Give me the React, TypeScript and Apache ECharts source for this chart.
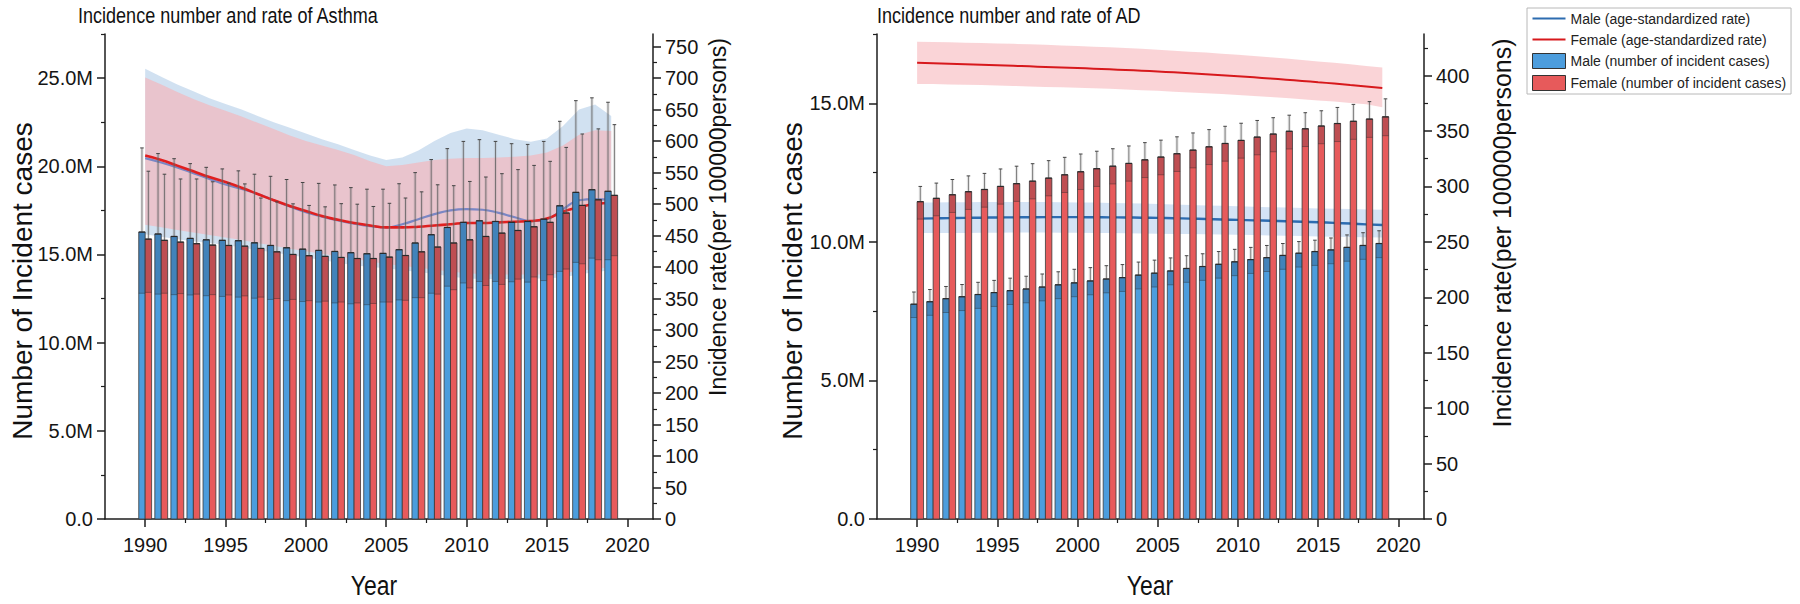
import React, { useEffect, useRef } from "react";
import * as echarts from "echarts";

// ---------- categories & ticks ----------
const years = [1990, 1991, 1992, 1993, 1994, 1995, 1996, 1997, 1998, 1999, 2000, 2001, 2002, 2003, 2004, 2005, 2006, 2007, 2008, 2009, 2010, 2011, 2012, 2013, 2014, 2015, 2016, 2017, 2018, 2019];
const xTicks = [1990, 1995, 2000, 2005, 2010, 2015, 2020];
const xMinorTicks = [1992.5, 1997.5, 2002.5, 2007.5, 2012.5, 2017.5];
const asthmaCountTicks = [0, 5, 10, 15, 20, 25];
const asthmaCountMinor = [2.5, 7.5, 12.5, 17.5, 22.5, 27.5];
const asthmaRateTicks = [0, 50, 100, 150, 200, 250, 300, 350, 400, 450, 500, 550, 600, 650, 700, 750];
const asthmaRateMinor = [25, 75, 125, 175, 225, 275, 325, 375, 425, 475, 525, 575, 625, 675, 725];
const adCountTicks = [0, 5, 10, 15];
const adCountMinor = [2.5, 7.5, 12.5, 17.5];
const adRateTicks = [0, 50, 100, 150, 200, 250, 300, 350, 400];
const adRateMinor = [25, 75, 125, 175, 225, 275, 325, 375, 425];

// ---------- Asthma: incident cases (millions) ----------
const asthmaMale = [16.27, 16.16, 16.02, 15.91, 15.83, 15.8, 15.78, 15.66, 15.51, 15.38, 15.3, 15.23, 15.17, 15.1, 15.04, 15.06, 15.27, 15.65, 16.12, 16.53, 16.82, 16.91, 16.87, 16.82, 16.87, 17.0, 17.76, 18.52, 18.67, 18.58];
const asthmaMaleLow = [12.8, 12.75, 12.72, 12.7, 12.66, 12.62, 12.58, 12.52, 12.45, 12.38, 12.33, 12.3, 12.25, 12.2, 12.15, 12.3, 12.42, 12.55, 12.8, 13.2, 13.38, 13.47, 13.47, 13.45, 13.43, 13.52, 14.04, 14.55, 14.79, 14.7];
const asthmaMaleHigh = [21.04, 20.72, 20.43, 20.15, 19.94, 19.85, 19.74, 19.55, 19.43, 19.25, 19.08, 19.03, 18.94, 18.79, 18.7, 18.7, 19.01, 19.64, 20.38, 21.0, 21.41, 21.51, 21.41, 21.28, 21.24, 21.41, 22.55, 23.72, 23.88, 23.63];
const asthmaFemale = [15.87, 15.8, 15.7, 15.61, 15.53, 15.51, 15.47, 15.34, 15.15, 15.0, 14.93, 14.89, 14.83, 14.77, 14.77, 14.85, 14.94, 15.15, 15.42, 15.65, 15.83, 16.02, 16.21, 16.36, 16.57, 16.82, 17.35, 17.78, 18.1, 18.35];
const asthmaFemaleLow = [12.85, 12.8, 12.78, 12.75, 12.72, 12.7, 12.65, 12.58, 12.5, 12.45, 12.38, 12.35, 12.3, 12.25, 12.22, 12.3, 12.4, 12.55, 12.75, 13.0, 13.1, 13.24, 13.3, 13.6, 13.72, 13.85, 14.17, 14.47, 14.7, 14.93];
const asthmaFemaleHigh = [19.72, 19.55, 19.28, 19.28, 19.12, 19.04, 19.0, 18.2, 17.98, 17.87, 17.78, 17.7, 17.88, 17.85, 17.72, 17.9, 18.2, 18.55, 18.95, 18.9, 19.14, 19.39, 19.58, 19.81, 20.05, 20.28, 21.07, 21.83, 22.12, 22.36];

// ---------- Asthma: age-standardized rate (per 100000) ----------
const asthmaMaleRate = [573, 566, 558, 549, 540, 531, 524, 516, 506, 496, 487, 480, 474, 469, 465, 463, 468, 476, 484, 490, 492, 491, 486, 479, 473, 476, 492, 506, 508, 507];
const asthmaMaleRateLow = [452, 448, 444, 441, 438, 435, 431, 427, 423, 419, 415, 411, 407, 403, 400, 398, 395, 392, 389, 385, 382, 381, 381, 381, 382, 382, 384, 388, 392, 395];
const asthmaMaleRateHigh = [715, 702, 690, 679, 668, 659, 650, 640, 630, 621, 612, 603, 595, 586, 577, 570, 574, 585, 600, 613, 620, 617, 610, 603, 599, 604, 624, 650, 658, 640];
const asthmaFemaleRate = [577, 570, 561, 552, 543, 535, 526, 516, 506, 497, 489, 481, 475, 470, 466, 463, 463, 464, 466, 468, 470, 470, 471, 472, 473, 477, 488, 495, 500, 502];
const asthmaFemaleRateLow = [467, 463, 459, 455, 451, 447, 443, 438, 434, 429, 425, 421, 417, 413, 409, 405, 402, 399, 396, 393, 390, 389, 388, 388, 388, 388, 390, 394, 397, 400];
const asthmaFemaleRateHigh = [701, 690, 678, 667, 657, 648, 639, 629, 619, 609, 600, 593, 586, 578, 568, 560, 562, 566, 570, 572, 573, 573, 574, 575, 577, 582, 593, 610, 617, 616];

// ---------- AD: incident cases (millions) ----------
const adMale = [7.75, 7.84, 7.95, 8.02, 8.1, 8.17, 8.24, 8.3, 8.37, 8.45, 8.52, 8.59, 8.66, 8.71, 8.8, 8.87, 8.95, 9.04, 9.11, 9.19, 9.28, 9.36, 9.43, 9.51, 9.59, 9.65, 9.71, 9.8, 9.87, 9.94];
const adMaleLow = [7.27, 7.35, 7.45, 7.52, 7.6, 7.67, 7.74, 7.8, 7.87, 7.95, 8.02, 8.09, 8.16, 8.21, 8.3, 8.37, 8.45, 8.54, 8.61, 8.69, 8.78, 8.86, 8.93, 9.01, 9.09, 9.15, 9.21, 9.3, 9.37, 9.43];
const adMaleHigh = [8.19, 8.28, 8.39, 8.46, 8.54, 8.61, 8.69, 8.76, 8.84, 8.92, 9.01, 9.07, 9.14, 9.18, 9.27, 9.34, 9.42, 9.5, 9.57, 9.65, 9.73, 9.8, 9.87, 9.94, 10.01, 10.06, 10.14, 10.25, 10.33, 10.4];
const adFemale = [11.45, 11.57, 11.7, 11.81, 11.89, 12.0, 12.1, 12.19, 12.3, 12.42, 12.53, 12.64, 12.73, 12.83, 12.96, 13.06, 13.18, 13.31, 13.43, 13.55, 13.66, 13.78, 13.89, 13.99, 14.08, 14.18, 14.27, 14.35, 14.43, 14.51];
const adFemaleLow = [10.82, 10.94, 11.06, 11.17, 11.25, 11.36, 11.46, 11.55, 11.66, 11.78, 11.89, 12.0, 12.09, 12.19, 12.32, 12.42, 12.54, 12.67, 12.79, 12.91, 13.02, 13.14, 13.25, 13.35, 13.44, 13.54, 13.62, 13.7, 13.77, 13.83];
const adFemaleHigh = [12.0, 12.12, 12.25, 12.38, 12.47, 12.63, 12.73, 12.82, 12.93, 13.05, 13.17, 13.27, 13.36, 13.46, 13.58, 13.67, 13.79, 13.93, 14.05, 14.17, 14.28, 14.38, 14.48, 14.57, 14.66, 14.73, 14.85, 14.96, 15.06, 15.16];

// ---------- AD: age-standardized rate (per 100000) ----------
const adMaleRate = [271.0, 271.2, 271.4, 271.6, 271.8, 272.0, 272.1, 272.2, 272.3, 272.3, 272.3, 272.2, 272.1, 272.0, 271.8, 271.6, 271.3, 271.0, 270.6, 270.2, 269.8, 269.4, 269.0, 268.6, 268.2, 267.7, 267.1, 266.5, 265.8, 265.2];
const adMaleRateLow = [258.0, 258.0, 258.0, 258.1, 258.2, 258.3, 258.4, 258.4, 258.4, 258.3, 258.2, 258.1, 258.0, 257.8, 257.6, 257.4, 257.2, 257.0, 256.8, 256.6, 256.4, 256.1, 255.8, 255.5, 255.2, 254.9, 254.6, 254.3, 254.1, 254.0];
const adMaleRateHigh = [285.5, 285.6, 285.7, 285.8, 285.9, 286.0, 286.0, 286.0, 285.9, 285.8, 285.6, 285.4, 285.1, 284.8, 284.5, 284.1, 283.7, 283.3, 282.9, 282.5, 282.1, 281.7, 281.3, 280.9, 280.5, 280.2, 279.9, 279.6, 279.3, 279.0];
const adFemaleRate = [411.5, 411.1, 410.7, 410.3, 409.8, 409.3, 408.8, 408.3, 407.8, 407.3, 406.8, 406.2, 405.6, 405.0, 404.4, 403.7, 402.9, 402.1, 401.2, 400.3, 399.4, 398.4, 397.4, 396.3, 395.2, 394.0, 392.8, 391.5, 390.2, 388.8];
const adFemaleRateLow = [392.5, 392.3, 392.0, 391.7, 391.4, 391.0, 390.6, 390.2, 389.8, 389.4, 389.0, 388.5, 388.0, 387.4, 386.8, 386.2, 385.5, 384.8, 384.1, 383.3, 382.5, 381.6, 380.7, 379.7, 378.7, 377.6, 376.5, 375.3, 374.1, 371.5];
const adFemaleRateHigh = [430.5, 430.3, 430.0, 429.7, 429.4, 429.0, 428.6, 428.2, 427.7, 427.2, 426.7, 426.1, 425.5, 424.8, 424.1, 423.3, 422.5, 421.6, 420.7, 419.7, 418.7, 417.6, 416.5, 415.3, 414.1, 412.8, 411.5, 410.1, 408.7, 407.2];

// ---------- names ----------
const MALE_RATE = "Male (age-standardized rate)";
const FEMALE_RATE = "Female (age-standardized rate)";
const MALE_CASES = "Male (number of incident cases)";
const FEMALE_CASES = "Female (number of incident cases)";

const FONT = "'Liberation Sans', Arial, Helvetica, sans-serif";
const BLUE = "#4c9ddd";
const RED = "#e75a5b";
const AXIS = "#1e1e1e";
const LINE_ICON = "path://M0,0h0.05v0.05z M0,6.6h33v1.8h-33z M33,15h-0.05v-0.05z";

function barRender(side: number, fill: string) {
  return (params: any, api: any) => {
    const yr = api.value(0);
    const v = api.value(1);
    const lo = api.value(2);
    const hi = api.value(3);
    const w = api.size([0.4, 0])[0];
    const base = api.coord([yr, 0]);
    const top = api.coord([yr, v]);
    const pLo = api.coord([yr, lo]);
    const pHi = api.coord([yr, hi]);
    const x0 = side < 0 ? base[0] - w : base[0];
    const cx = x0 + w / 2;
    return {
      type: "group",
      children: [
        { type: "rect", shape: { x: x0, y: top[1], width: w, height: base[1] - top[1] }, style: { fill, stroke: "#3a3a3a", lineWidth: 0.8 } },
        { type: "rect", shape: { x: x0, y: top[1], width: w, height: pLo[1] - top[1] }, style: { fill: "rgba(30,30,50,0.2)" } },
        { type: "line", shape: { x1: x0, y1: pLo[1], x2: x0 + w, y2: pLo[1] }, style: { stroke: "rgba(40,40,40,0.5)", lineWidth: 0.8 } },
        { type: "rect", shape: { x: cx - w * 0.25, y: pHi[1], width: w * 0.5, height: top[1] - pHi[1] }, style: { fill: "rgba(140,140,140,0.2)" } },
        { type: "line", shape: { x1: cx, y1: top[1], x2: cx, y2: pHi[1] }, style: { stroke: "rgba(90,90,90,0.75)", lineWidth: 1 } },
        { type: "line", shape: { x1: cx - w * 0.28, y1: pHi[1], x2: cx + w * 0.28, y2: pHi[1] }, style: { stroke: "#444", lineWidth: 1 } },
        { type: "line", shape: { x1: x0, y1: top[1], x2: x0 + w, y2: top[1] }, style: { stroke: "#2a2a2a", lineWidth: 1.2 } },
      ],
    };
  };
}

function barSeries(name: string, xi: number, yi: number, side: number, color: string, v: number[], lo: number[], hi: number[]) {
  return {
    type: "custom",
    name,
    xAxisIndex: xi,
    yAxisIndex: yi,
    z: 5,
    itemStyle: { color },
    encode: { x: 0, y: [1, 2, 3] },
    data: years.map((y, i) => [y, v[i], lo[i], hi[i]]),
    renderItem: barRender(side, color),
  };
}

function bandSeries(xi: number, yi: number, lo: number[], hi: number[], color: string, z: number) {
  return {
    type: "custom",
    xAxisIndex: xi,
    yAxisIndex: yi,
    z,
    silent: true,
    encode: { x: 0, y: [1, 2] },
    data: years.map((y, i) => [y, lo[i], hi[i]]),
    renderItem: (params: any, api: any) => {
      if (params.dataIndex !== 0) return null;
      const upper = years.map((y, i) => api.coord([y, hi[i]]));
      const lower = years.map((y, i) => api.coord([y, lo[i]])).reverse();
      return { type: "polygon", shape: { points: upper.concat(lower) }, style: { fill: color } };
    },
  };
}

function lineSeries(name: string, xi: number, yi: number, vals: number[], color: string, width: number, z: number) {
  return {
    type: "line",
    name,
    xAxisIndex: xi,
    yAxisIndex: yi,
    smooth: true,
    symbol: "none",
    z,
    itemStyle: { color },
    lineStyle: { color, width },
    data: years.map((y, i) => [y, vals[i]]),
  };
}

function xAxes(grid: number) {
  return [
    {
      type: "value",
      gridIndex: grid,
      position: "bottom",
      min: 1987.5,
      max: 2021.6,
      axisLine: { show: true, onZero: false, lineStyle: { color: AXIS, width: 1.5 } },
      axisTick: { show: true, customValues: xTicks, length: 8, lineStyle: { color: AXIS, width: 1.5 } },
      axisLabel: { customValues: xTicks, margin: 16, fontSize: 20, color: "#151515", fontFamily: FONT, formatter: (v: number) => String(v) },
      splitLine: { show: false },
    },
    {
      type: "value",
      gridIndex: grid,
      position: "bottom",
      min: 1987.5,
      max: 2021.6,
      axisLine: { show: false, onZero: false },
      axisTick: { show: true, customValues: xMinorTicks, length: 4, lineStyle: { color: AXIS, width: 1.2 } },
      axisLabel: { show: false },
      splitLine: { show: false },
    },
  ];
}

function yAxes(grid: number, pos: string, max: number, major: number[], minor: number[], fmt: (v: number) => string) {
  return [
    {
      type: "value",
      gridIndex: grid,
      position: pos,
      min: 0,
      max,
      axisLine: { show: true, onZero: false, lineStyle: { color: AXIS, width: 1.5 } },
      axisTick: { show: true, customValues: major, length: 8, lineStyle: { color: AXIS, width: 1.5 } },
      axisLabel: { customValues: major, margin: 12, fontSize: 20, color: "#151515", fontFamily: FONT, formatter: fmt },
      splitLine: { show: false },
    },
    {
      type: "value",
      gridIndex: grid,
      position: pos,
      min: 0,
      max,
      axisLine: { show: false, onZero: false },
      axisTick: { show: true, customValues: minor, length: 4, lineStyle: { color: AXIS, width: 1.2 } },
      axisLabel: { show: false },
      splitLine: { show: false },
    },
  ];
}

const countFmt = (v: number) => (v === 0 ? "0.0" : v.toFixed(1) + "M");
const rateFmt = (v: number) => String(v);

function txt(text: string, x: number, y: number, size: number, rot: number, align: string, sx: number) {
  return {
    type: "text",
    x,
    y,
    rotation: rot,
    scaleX: sx,
    silent: true,
    style: {
      text,
      x: 0,
      y: 0,
      fill: "#111",
      font: `${size}px ${FONT}`,
      align,
      verticalAlign: "middle",
      textAlign: align,
      textVerticalAlign: "middle",
    },
  };
}

export default function App() {
  const ref = useRef<HTMLDivElement>(null);
  useEffect(() => {
    if (!ref.current) return;
    const chart = echarts.init(ref.current, null, { renderer: "svg" });
    const option: any = {
      animation: false,
      textStyle: { fontFamily: FONT },
      grid: [
        { left: 105, top: 34, width: 548, height: 485 },
        { left: 877, top: 34, width: 547, height: 485 },
      ],
      xAxis: [...xAxes(0), ...xAxes(1)],
      yAxis: [
        ...yAxes(0, "left", 27.5, asthmaCountTicks, asthmaCountMinor, countFmt),
        ...yAxes(0, "right", 770, asthmaRateTicks, asthmaRateMinor, rateFmt),
        ...yAxes(1, "left", 17.5, adCountTicks, adCountMinor, countFmt),
        ...yAxes(1, "right", 437.5, adRateTicks, adRateMinor, rateFmt),
      ],
      legend: {
        orient: "vertical",
        left: 1527,
        top: 8,
        itemWidth: 33,
        itemHeight: 15,
        itemGap: 6,
        padding: [3, 5, 3, 5],
        borderColor: "#b8b8b8",
        borderWidth: 1,
        textStyle: { fontSize: 14, color: "#222", fontFamily: FONT },
        data: [
          { name: MALE_RATE, icon: LINE_ICON, itemStyle: { color: "#2d6cb0" } },
          { name: FEMALE_RATE, icon: LINE_ICON, itemStyle: { color: "#d7191c" } },
          { name: MALE_CASES, icon: "rect", itemStyle: { color: BLUE, borderColor: "#333", borderWidth: 1 } },
          { name: FEMALE_CASES, icon: "rect", itemStyle: { color: RED, borderColor: "#333", borderWidth: 1 } },
        ],
      },
      graphic: [
        txt("Incidence number and rate of Asthma", 78, 15, 22, 0, "left", 0.82),
        txt("Incidence number and rate of AD", 877, 15, 22, 0, "left", 0.82),
        txt("Number of Incident cases", 22, 281, 28, Math.PI / 2, "center", 1),
        txt("Incidence rate(per 100000persons)", 718, 217, 23, Math.PI / 2, "center", 1),
        txt("Year", 374, 585, 27, 0, "center", 0.85),
        txt("Number of Incident cases", 792, 281, 28, Math.PI / 2, "center", 1),
        txt("Incidence rate(per 100000persons)", 1502, 233, 25, Math.PI / 2, "center", 1),
        txt("Year", 1150, 585, 27, 0, "center", 0.85),
      ],
      series: [
        // Asthma
        bandSeries(0, 2, asthmaMaleRateLow, asthmaMaleRateHigh, "rgba(193,215,236,0.75)", 1),
        bandSeries(0, 2, asthmaFemaleRateLow, asthmaFemaleRateHigh, "rgba(240,185,192,0.75)", 2),
        lineSeries(MALE_RATE, 0, 2, asthmaMaleRate, "#7a86c4", 2.2, 3),
        lineSeries(FEMALE_RATE, 0, 2, asthmaFemaleRate, "#e01f1f", 2.6, 4),
        barSeries(MALE_CASES, 0, 0, -1, BLUE, asthmaMale, asthmaMaleLow, asthmaMaleHigh),
        barSeries(FEMALE_CASES, 0, 0, 1, RED, asthmaFemale, asthmaFemaleLow, asthmaFemaleHigh),
        // AD
        bandSeries(2, 6, adMaleRateLow, adMaleRateHigh, "rgba(170,200,235,0.5)", 1),
        bandSeries(2, 6, adFemaleRateLow, adFemaleRateHigh, "rgba(244,160,166,0.45)", 2),
        lineSeries(MALE_RATE, 2, 6, adMaleRate, "#2d6cb0", 2.4, 3),
        lineSeries(FEMALE_RATE, 2, 6, adFemaleRate, "#d7191c", 2, 4),
        barSeries(MALE_CASES, 2, 4, -1, BLUE, adMale, adMaleLow, adMaleHigh),
        barSeries(FEMALE_CASES, 2, 4, 1, RED, adFemale, adFemaleLow, adFemaleHigh),
      ],
    };
    chart.setOption(option);
    return () => chart.dispose();
  }, []);
  return <div ref={ref} style={{ position: "absolute", left: 0, top: 0, width: 1800, height: 604 }} />;
}
